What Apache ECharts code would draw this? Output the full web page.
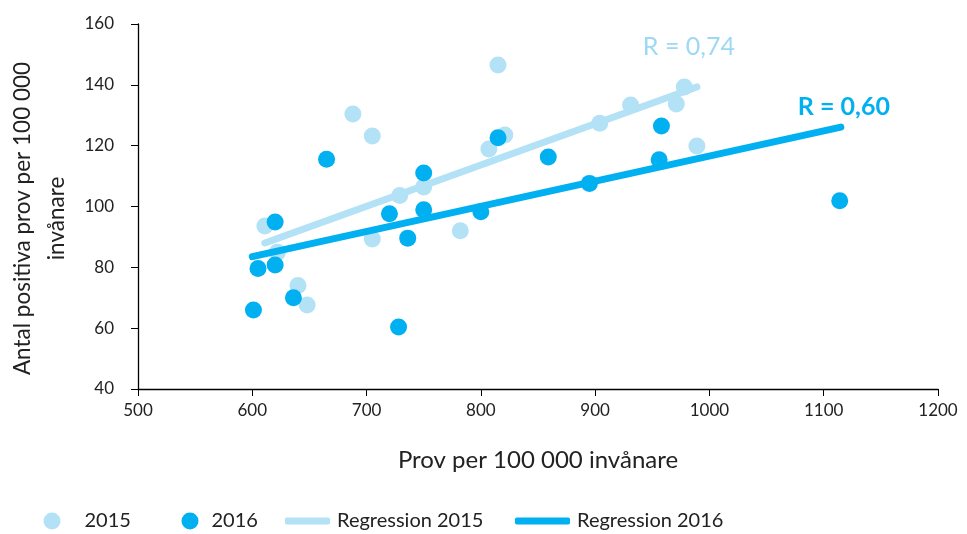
<!DOCTYPE html>
<html>
<head>
  <meta charset="utf-8">
  <title>Prov per 100 000 invånare</title>
  <script src="https://cdn.jsdelivr.net/npm/echarts@6/dist/echarts.min.js"></script>
  <style>
    html, body { margin: 0; padding: 0; background: #fff; }
    #chart { width: 967px; height: 534px; }
  </style>
</head>
<body>
  <div id="chart"></div>
  <script>
    // data: [prov per 100 000, positiva per 100 000]
    var points2015 = [
      [611, 93.6], [688, 130.4], [705, 123.2], [705, 89.3], [640, 74], [648, 67.6],
      [729, 103.6], [750, 106.4], [782, 92], [815, 146.5], [807, 118.9], [821, 123.5],
      [904, 127.4], [931, 133.4], [971, 133.7], [978, 139.3], [989, 119.9], [622, 85]
    ];
    var points2016 = [
      [620, 94.9], [605, 79.6], [620, 80.8], [636, 70], [601, 66], [728, 60.4],
      [720, 97.6], [750, 98.9], [736, 89.6], [800, 98.3], [665, 115.5], [750, 111],
      [815, 122.6], [859, 116.3], [958, 126.5], [956, 115.4], [895, 107.6], [1114, 101.9]
    ];
    // regression line end points
    var reg2015 = [[611, 88], [989, 139.3]];
    var reg2016 = [[600, 83.5], [1115, 126.1]];
    var rLabels = ['R = 0,74', 'R = 0,60'];

    var light = '#B3E1F6';
    var dark = '#00B0F0';
    var font = 'Lato';

    // one legend per item so each sits where it does in the original
    function legendItem(name, left, icon, w, h, pad) {
      return {
        data: [name], left: left, top: 511, padding: 0, icon: icon,
        itemWidth: w, itemHeight: h,
        textStyle: { fontFamily: font, fontSize: 20, color: '#222', padding: [0, 0, 0, pad] }
      };
    }

    var chart = echarts.init(document.getElementById('chart'));
    var option = {
      animation: false,
      grid: { left: 138, right: 29, top: 24, bottom: 145, outerBoundsMode: 'none' },
      xAxis: {
        type: 'value', min: 500, max: 1200, interval: 100,
        name: 'Prov per 100 000 invånare',
        nameLocation: 'middle', nameGap: 59,
        nameTextStyle: { fontFamily: font, fontSize: 24, color: '#222' },
        axisLine: { lineStyle: { color: '#000', width: 1.3 } },
        axisTick: { show: true, length: 7, lineStyle: { color: '#000' } },
        axisLabel: {
          fontFamily: font, fontSize: 17, color: '#222', margin: 13,
          formatter: function (v) { return String(v); }
        },
        splitLine: { show: false }
      },
      yAxis: {
        type: 'value', min: 40, max: 160, interval: 20,
        name: 'Antal positiva prov per 100 000\ninvånare',
        nameLocation: 'middle', nameGap: 59, nameRotate: 90,
        nameTextStyle: {
          fontFamily: font, fontSize: 22.5, color: '#222', lineHeight: 34,
          padding: [0, 24, 0, 0]
        },
        axisLine: { show: true, lineStyle: { color: '#000', width: 1.3 } },
        axisTick: { show: true, length: 7, lineStyle: { color: '#000' } },
        axisLabel: { fontFamily: font, fontSize: 17, color: '#222', margin: 24 },
        splitLine: { show: false }
      },
      legend: [
        legendItem('2015', 43.5, 'circle', 17, 17, 19),
        legendItem('2016', 181.5, 'circle', 17, 17, 8),
        legendItem('Regression 2015', 285, 'roundRect', 45, 7, 2),
        legendItem('Regression 2016', 515, 'roundRect', 55, 7, 2)
      ],
      series: [
        {
          name: '2015', type: 'scatter', data: points2015, symbolSize: 17,
          itemStyle: { color: light, opacity: 1 }
        },
        {
          name: 'Regression 2015', type: 'line', data: reg2015, showSymbol: false,
          lineStyle: { color: light, width: 7, cap: 'round' }, itemStyle: { color: light },
          endLabel: {
            show: true, formatter: rLabels[0], offset: [-62, -40],
            fontFamily: font, fontSize: 25, color: '#9DD8F5'
          }
        },
        {
          name: '2016', type: 'scatter', data: points2016, symbolSize: 17,
          itemStyle: { color: dark, opacity: 1 }
        },
        {
          name: 'Regression 2016', type: 'line', data: reg2016, showSymbol: false,
          lineStyle: { color: dark, width: 7, cap: 'round' }, itemStyle: { color: dark },
          endLabel: {
            show: true, formatter: rLabels[1], offset: [-51, -20],
            fontFamily: font, fontSize: 25, fontWeight: 'bold', color: dark
          }
        }
      ]
    };
    chart.setOption(option);
  </script>
</body>
</html>
